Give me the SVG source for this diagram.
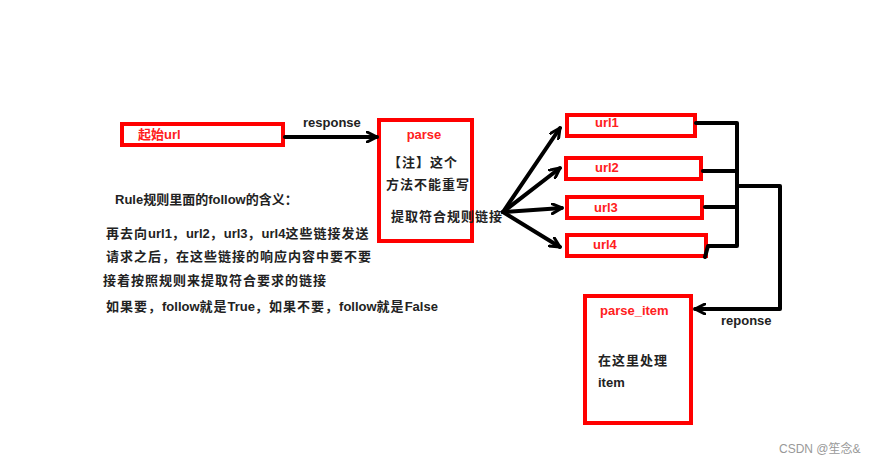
<svg xmlns="http://www.w3.org/2000/svg" width="877" height="465" viewBox="0 0 877 465">
<style>
.box{fill:#fff;stroke:#ff0000;stroke-width:4}
.line{fill:none;stroke:#000;stroke-width:4;stroke-linecap:round;stroke-linejoin:round}
.red{font-family:"Liberation Sans",Arial,"Noto Sans CJK SC",sans-serif;font-weight:bold;font-size:13px;fill:#ff2020}
.lbl{font-family:"Liberation Sans",Arial,sans-serif;font-weight:bold;font-size:13px;fill:#222}
.cn{font-family:"Liberation Sans",Arial,"Noto Sans CJK SC",sans-serif;font-weight:bold;font-size:13px;fill:#222;letter-spacing:1px}
.lat{letter-spacing:0}
.wm{font-family:"Liberation Sans",Arial,"Noto Sans CJK SC",sans-serif;font-size:12px;fill:#999}
</style>
<defs>
<marker id="ah" viewBox="0 0 12 12" refX="11" refY="6" markerWidth="12" markerHeight="12" markerUnits="userSpaceOnUse" orient="auto">
<path d="M1,1 L11,6 L1,11" fill="none" stroke="#000" stroke-width="3" stroke-linecap="round" stroke-linejoin="round"/>
</marker>
</defs>
<rect width="877" height="465" fill="#fff"/>

<g id="start">
<rect class="box" x="122" y="124" width="161" height="21"/>
<text class="red" x="138" y="139">起始url</text>
</g>

<g id="parse">
<rect class="box" x="379" y="120" width="93" height="121"/>
<text class="red" x="424" y="139" text-anchor="middle">parse</text>
<text class="cn" x="388" y="167">【注】这个</text>
<text class="cn" x="386" y="189">方法不能重写</text>
<text class="cn" x="391" y="221">提取符合规则链接</text>
</g>

<g id="url1">
<rect class="box" x="567" y="115" width="128" height="21"/>
<text class="red" x="595" y="127">url1</text>
</g>
<g id="url2">
<rect class="box" x="566" y="158" width="135" height="21"/>
<text class="red" x="595" y="172">url2</text>
</g>
<g id="url3">
<rect class="box" x="567" y="197" width="135" height="21"/>
<text class="red" x="594" y="212">url3</text>
</g>
<g id="url4">
<rect class="box" x="567" y="235" width="139" height="21"/>
<text class="red" x="593" y="249">url4</text>
</g>

<g id="parse_item">
<rect class="box" x="585" y="296" width="106" height="127"/>
<text class="red" x="600" y="315">parse_item</text>
<text class="cn" x="598" y="365">在这里处理</text>
<text class="lbl" x="598" y="387">item</text>
</g>

<g id="notes">
<text class="cn" x="115" y="204" style="letter-spacing:0">Rule规则里面的follow的含义：</text>
<text class="cn" x="106" y="238">再去向<tspan class="lat">url1</tspan>，<tspan class="lat">url2</tspan>，<tspan class="lat">url3</tspan>，<tspan class="lat">url4</tspan>这些链接发送</text>
<text class="cn" x="106" y="261">请求之后，在这些链接的响应内容中要不要</text>
<text class="cn" x="103" y="285">接着按照规则来提取符合要求的链接</text>
<text class="cn" x="106" y="311">如果要，<tspan class="lat">follow</tspan>就是<tspan class="lat">True</tspan>，如果不要，<tspan class="lat">follow</tspan>就是<tspan class="lat">False</tspan></text>
</g>

<g id="connectors">
<line class="line" x1="285" y1="137" x2="377" y2="137" marker-end="url(#ah)"/>
<text class="lbl" x="303" y="127">response</text>
<line class="line" x1="503" y1="212" x2="560" y2="128" marker-end="url(#ah)"/>
<line class="line" x1="503" y1="212" x2="560" y2="168" marker-end="url(#ah)"/>
<line class="line" x1="503" y1="212" x2="562" y2="208" marker-end="url(#ah)"/>
<line class="line" x1="503" y1="212" x2="560" y2="247" marker-end="url(#ah)"/>
<path class="line" d="M696,123 H737 V246 H708 M703,171 H737 M705,207 H737 M708,246 L705,257 M737,186 H780 V309 H695" marker-end="url(#ah)"/>
<text class="lbl" x="721" y="325">reponse</text>
</g>

<text class="wm" x="779" y="453">CSDN @笙念&amp;</text>
</svg>
